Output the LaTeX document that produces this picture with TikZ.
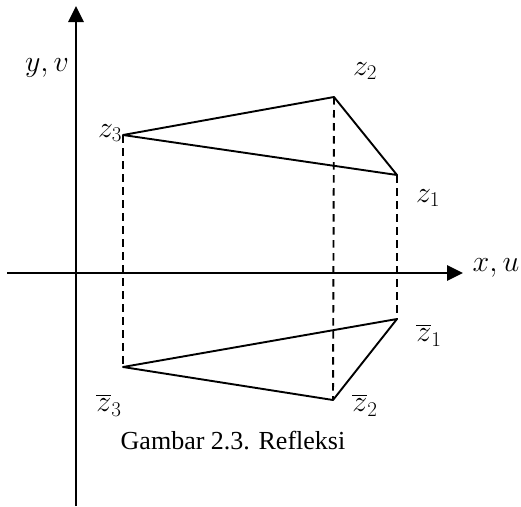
\documentclass[tikz,border=0pt]{standalone}
\usepackage{fix-cm}
\usepackage{amsmath}
\usepackage{fontspec}
\setmainfont{Liberation Serif}
\usetikzlibrary{arrows.meta, positioning}

\begin{document}
\begin{tikzpicture}[
    x=1pt, y=-1pt,
    axis/.style={
        line width=2.7pt,
        -{Triangle[length=16pt, width=15pt]}
    },
    edge/.style={
        line width=1.9pt,
        line join=round
    },
    projline/.style={
        line width=1.9pt,
        dash pattern=on 7.5pt off 5.5pt
    },
    pointlabel/.style={
        inner sep=0pt,
        font=\fontsize{30}{34}\selectfont
    },
    captiontext/.style={
        inner sep=0pt,
        font=\fontsize{26}{30}\selectfont
    }
]
\useasboundingbox (0,0) rectangle (521,506);

% ==================== AXES ====================

\coordinate (xleft) at (7,273);
\coordinate (xright) at (463,273);
\coordinate (ybottom) at (76,506);
\coordinate (ytop) at (76,6);

\draw [axis] (xleft) -- (xright);
\draw [axis] (ybottom) -- (ytop);

\node (xlabel) [pointlabel] at (496,268) {$x,u$};
\node (ylabel) [pointlabel] at (47,68) {$y,v$};

% ==================== POINTS AND REFLECTIONS ====================

\coordinate (z1) at (397,175);
\coordinate (z2) at (334,97);
\coordinate (z3) at (123,135);

\coordinate (z1bar) at (397,319);
\coordinate (z2bar) at (333,400);
\coordinate (z3bar) at (123,367);

% Vertical dashed projections
\draw [projline] (z1) -- (z1bar);
\draw [projline] (z2) -- (z2bar);
\draw [projline] (z3) -- (z3bar);

% Triangles
\draw [edge] (z1) -- (z2) -- (z3) -- cycle;
\draw [edge] (z1bar) -- (z2bar) -- (z3bar) -- cycle;

% Labels
\node (lz1) [pointlabel] at (428,198) {$z_1$};
\node (lz2) [pointlabel] at (365,71) {$z_2$};
\node (lz3) [pointlabel] at (110,133) {$z_3$};

\node (lz1bar) [pointlabel] at (429,335) {$\overline{z}_1$};
\node (lz2bar) [pointlabel] at (365,405) {$\overline{z}_2$};
\node (lz3bar) [pointlabel] at (109,405) {$\overline{z}_3$};

% ==================== CAPTION ====================

\node (caption) [captiontext] at (233,441) {Gambar 2.3. Refleksi};

\end{tikzpicture}
\end{document}
